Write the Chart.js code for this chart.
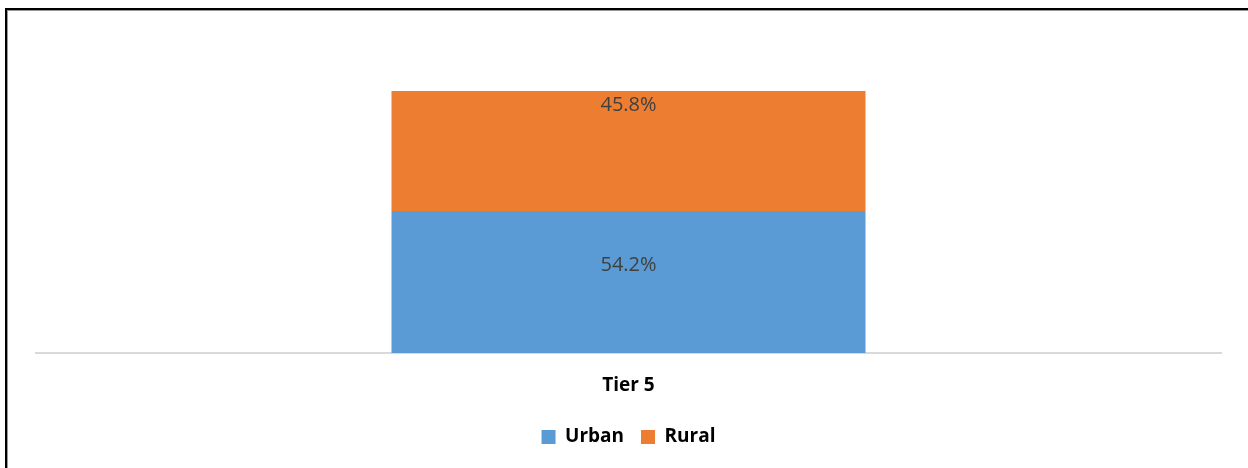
<!DOCTYPE html>
<html>
<head>
  <meta charset="UTF-8">
  <title>Tier 5 Urban / Rural</title>
  <script src="https://cdn.jsdelivr.net/npm/chart.js"></script>
  <style>
    body, html {
      margin: 0;
      padding: 0;
      background: #fff;
      overflow: hidden;
    }
    #frame {
      position: absolute;
      left: 5px;
      top: 8px;
      width: 1400px;
      height: 600px;
      border-left: 2px solid #000;
      border-top: 2px solid #000;
      box-shadow: inset 1px 1px 0 #999;
    }
    #chart-container {
      position: absolute;
      left: 0;
      top: 0;
      width: 1248px;
      height: 468px;
    }
  </style>
</head>
<body>
  <div id="frame"></div>
  <div id="chart-container">
    <canvas id="tierChart"></canvas>
  </div>

  <script>
    const categories = ["Tier 5"];
    const urban = [54.2];
    const rural = [45.8];

    // value labels: orange one sits near the top of its segment, blue one a bit above middle
    const valueLabels = {
      id: 'valueLabels',
      afterDatasetsDraw(chart) {
        const c = chart.ctx;
        c.save();
        c.font = '20px "Open Sans", sans-serif';
        c.fillStyle = '#404040';
        c.textAlign = 'center';
        c.textBaseline = 'middle';
        chart.data.datasets.forEach((ds, i) => {
          chart.getDatasetMeta(i).data.forEach((bar, j) => {
            const top = Math.min(bar.y, bar.base);
            const h = Math.abs(bar.base - bar.y);
            const y = i === 1 ? top + 14 : top + h * 0.38;
            c.fillText(ds.data[j].toFixed(1) + '%', bar.x, y);
          });
        });
        c.restore();
      }
    };

    const ctx = document.getElementById('tierChart').getContext('2d');
    new Chart(ctx, {
      type: 'bar',
      data: {
        labels: categories,
        datasets: [
          { label: "Urban", data: urban, backgroundColor: "#5B9BD5", categoryPercentage: 1, barPercentage: 0.4 },
          { label: "Rural", data: rural, backgroundColor: "#ED7D31", categoryPercentage: 1, barPercentage: 0.4 }
        ]
      },
      options: {
        responsive: true,
        maintainAspectRatio: false,
        animation: false,
        layout: { padding: { left: 36, right: 27, top: 91, bottom: 11.5 } },
        plugins: {
          tooltip: { enabled: false },
          legend: {
            position: 'bottom',
            labels: {
              boxWidth: 14,
              boxHeight: 14,
              padding: 17,
              color: '#000',
              font: { family: '"Open Sans", sans-serif', size: 19, weight: 'bold' }
            }
          }
        },
        scales: {
          x: {
            stacked: true,
            grid: { display: false, drawTicks: false },
            border: { display: true, color: '#d9d9d9', width: 2 },
            ticks: {
              padding: 21,
              color: '#000',
              font: { family: '"Open Sans", sans-serif', size: 19, weight: 'bold' }
            },
            afterFit: s => { s.height = 57.5; }
          },
          y: {
            stacked: true,
            display: false,
            min: 0,
            max: 100
          }
        }
      },
      plugins: [valueLabels]
    });
  </script>
</body>
</html>
